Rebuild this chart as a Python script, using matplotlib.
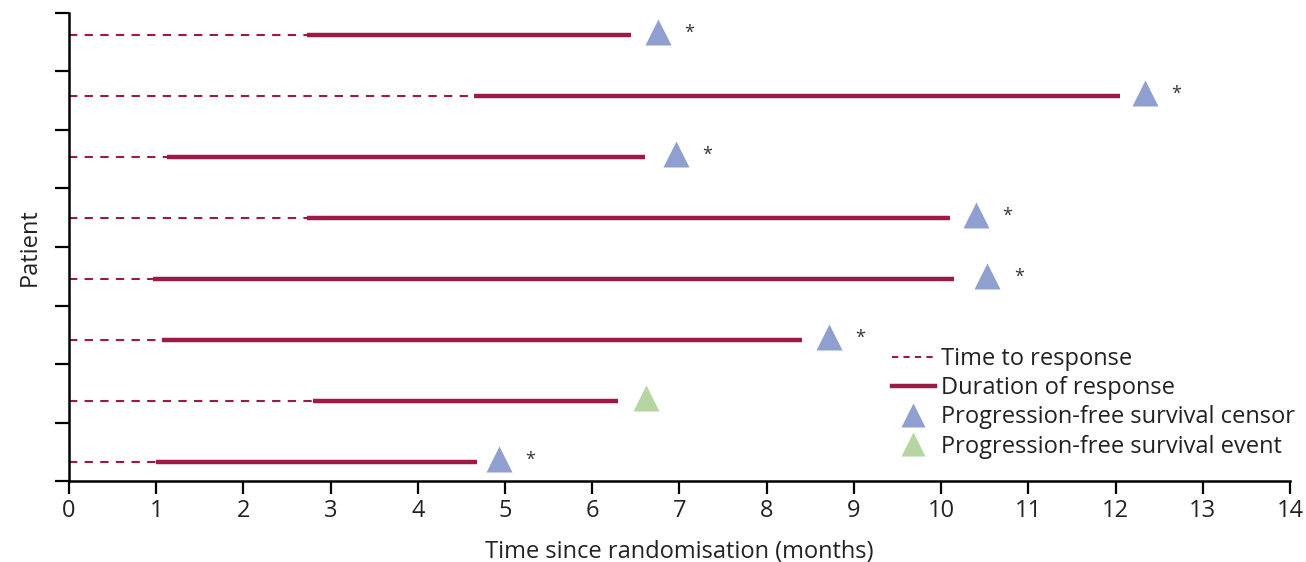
import matplotlib
matplotlib.use("Agg")
import matplotlib.pyplot as plt
from matplotlib.lines import Line2D
import numpy as np

plt.rcParams['font.family'] = ['Open Sans', 'DejaVu Sans']

# Patients listed top to bottom
time_to_response = [2.73, 4.65, 1.12, 2.73, 0.96, 1.07, 2.80, 1.00]
end_of_response = [6.44, 12.05, 6.60, 10.10, 10.15, 8.41, 6.30, 4.68]
pfs_time = [6.75, 12.34, 6.96, 10.40, 10.53, 8.71, 6.62, 4.93]
pfs_censored = [True, True, True, True, True, True, False, True]
x_ticks = list(range(0, 15))

RED = '#9e1a46'
BLUE = '#8fa0d0'
GREEN = '#b5d5a3'

fig = plt.figure(figsize=(13.06, 5.62), dpi=100)
ax = fig.add_axes([0.0528, 0.1441, 0.9349, 0.8328])

n = len(time_to_response)
ys = np.arange(n)[::-1]
for y, t0, t1, tp, cens in zip(ys, time_to_response, end_of_response, pfs_time, pfs_censored):
    ax.plot([0, t0], [y, y], color=RED, lw=1.5, dashes=(4, 3.5), solid_capstyle='butt')
    ax.plot([t0, t1], [y, y], color=RED, lw=3.2, solid_capstyle='butt')
    ax.plot(tp, y + 0.05, marker='^', ms=19, color=BLUE if cens else GREEN, mec='none', ls='none')
    if cens:
        ax.text(tp + 0.36, y + 0.03, '*', fontsize=13, ha='center', va='center', color='#333333')

ax.set_xlim(0, 14)
ylo, yhi = -0.311, 7.36
ax.set_ylim(ylo, yhi)
ax.set_yticks(np.linspace(ylo, yhi, 9))
ax.set_yticklabels([])
ax.set_xticks(x_ticks)
ax.set_xticklabels([str(v) for v in x_ticks], fontsize=17, color='#222222')
ax.tick_params(axis='y', length=10, width=1.6, direction='out')
ax.tick_params(axis='x', length=9, width=1.6, direction='out', pad=4)
for s in ['top', 'right']:
    ax.spines[s].set_visible(False)
for s in ['left', 'bottom']:
    ax.spines[s].set_linewidth(1.8)
ax.set_xlabel('Time since randomisation (months)', fontsize=17, color='#222222', labelpad=12)
ax.set_ylabel('Patient', fontsize=17, color='#222222', labelpad=6)

handles = [
    Line2D([], [], color=RED, lw=1.5, dashes=(3, 2.5)),
    Line2D([], [], color=RED, lw=3.2),
    Line2D([], [], marker='^', ms=17, color=BLUE, mec='none', ls='none'),
    Line2D([], [], marker='^', ms=17, color=GREEN, mec='none', ls='none'),
]
labels = ['Time to response', 'Duration of response',
          'Progression-free survival censor', 'Progression-free survival event']
fig.legend(handles, labels, loc='upper left', bbox_to_anchor=(892 / 1306, 1 - 347 / 562),
           frameon=False, fontsize=17, handlelength=1.82, handletextpad=0.25,
           labelspacing=0.22, borderpad=0, borderaxespad=0, labelcolor='#222222')

fig.savefig('out.png', dpi=100)
